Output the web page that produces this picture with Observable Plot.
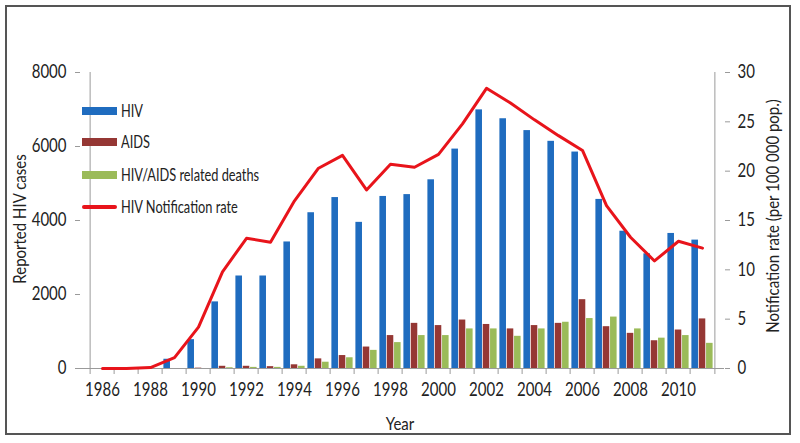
<!DOCTYPE html>
<html>
<head>
<meta charset="utf-8">
<script src="https://cdn.jsdelivr.net/npm/d3@7"></script>
<script src="https://cdn.jsdelivr.net/npm/@observablehq/plot@0.6"></script>
<style>
  html, body { margin: 0; padding: 0; background: #fff; }
  #wrap { position: relative; width: 800px; height: 443px; overflow: hidden; font-family: Lato, "Open Sans", sans-serif; color: #222; }
  #frame { position: absolute; left: 5px; top: 5px; width: 786px; height: 430px; border: 2px solid #555; box-sizing: border-box; pointer-events: none; }
  .lbl { position: absolute; white-space: nowrap; font-size: 15px; color: #222; }
  .rot { transform: translate(-50%, -50%) rotate(-90deg) scaleY(1.2); }
  .ctr { transform: translate(-50%, -50%) scaleY(1.2); }
  .leg { position: absolute; left: 82px; font-size: 12.8px; color: #222; display: flex; align-items: center; white-space: nowrap; }
  .leg span { display: inline-block; transform: scaleY(1.28); }
  .sw { width: 35px; height: 8px; margin-right: 4px; }
  .ln { width: 35px; height: 4px; margin-right: 4px; border-radius: 2px; }
  svg { position: absolute; left: 0; top: 0; }
</style>
</head>
<body>
<div id="wrap"></div>
<script>
const years = [1986, 1987, 1988, 1989, 1990, 1991, 1992, 1993, 1994, 1995, 1996, 1997, 1998,
               1999, 2000, 2001, 2002, 2003, 2004, 2005, 2006, 2007, 2008, 2009, 2010, 2011];
const hivCases = [0, 0, 0, 250, 780, 1800, 2500, 2500, 3420, 4210, 4620, 3950, 4650,
                  4700, 5100, 5930, 6990, 6750, 6430, 6140, 5850, 4570, 3710, 3100, 3650, 3470];
const aidsCases = [0, 0, 0, 0, 10, 60, 60, 50, 100, 260, 350, 580, 890,
                   1220, 1160, 1310, 1190, 1070, 1160, 1220, 1860, 1130, 950, 750, 1040, 1340];
const deaths = [0, 0, 0, 0, 0, 20, 30, 30, 60, 170, 290, 490, 700,
                890, 890, 1070, 1070, 870, 1070, 1250, 1350, 1390, 1070, 820, 890, 680];
const notificationRate = [0, 0, 0.1, 1.1, 4.2, 9.8, 13.2, 12.8, 17.0, 20.3, 21.6, 18.1, 20.7,
                          20.4, 21.7, 24.8, 28.4, 26.9, 25.2, 23.6, 22.1, 16.5, 13.3, 10.9, 12.9, 12.2];
const leftTicks = [0, 2000, 4000, 6000, 8000];
const rightTicks = [0, 5, 10, 15, 20, 25, 30];
const yearLabels = [1986, 1988, 1990, 1992, 1994, 1996, 1998, 2000, 2002, 2004, 2006, 2008, 2010];
const seriesNames = ["HIV", "AIDS", "HIV/AIDS related deaths", "HIV Notification rate"];
const colors = {hiv: "#1f6cbf", aids: "#953734", deaths: "#9bbb59", rate: "#e8141b"};

const data = years.map((year, i) => ({
  year, hiv: hivCases[i], aids: aidsCases[i], deaths: deaths[i], rate: notificationRate[i]
}));

const W = 800, H = 443, ML = 80, MR = 76, MT = 72, MB = 75;
const bw = (W - ML - MR) / years.length;
const S = 8000 / 30; // right axis -> left axis units
const axisColor = "#9a9a9a";

const chart = Plot.plot({
  width: W, height: H,
  marginLeft: ML, marginRight: MR, marginTop: MT, marginBottom: MB,
  style: {fontFamily: "Lato, 'Open Sans', sans-serif", fontSize: "15px", color: "#222", background: "transparent"},
  x: {type: "band", domain: years, padding: 0, label: null},
  y: {domain: [0, 8000], label: null},
  marks: [
    Plot.barY(data, {x: "year", y: "hiv", fill: colors.hiv, insetLeft: 1.4, insetRight: bw - 8.75}),
    Plot.barY(data, {x: "year", y: "aids", fill: colors.aids, insetLeft: 8.75, insetRight: bw - 16.05}),
    Plot.barY(data, {x: "year", y: "deaths", fill: colors.deaths, insetLeft: 16.05, insetRight: 1.4}),
    // axis lines
    Plot.ruleY([0], {stroke: axisColor}),
    Plot.ruleX([years[0]], {stroke: axisColor, dx: -bw / 2}),
    Plot.ruleX([years[years.length - 1]], {stroke: axisColor, dx: bw / 2}),
    // x tick marks at category boundaries
    Plot.axisX({ticks: years, tickFormat: () => "", tickSize: 6, dx: -bw / 2, stroke: axisColor}),
    Plot.axisX({ticks: [years[years.length - 1]], tickFormat: () => "", tickSize: 6, dx: bw / 2, stroke: axisColor}),
    Plot.axisX({ticks: yearLabels, tickSize: 0, tickPadding: 14, tickFormat: d => String(d), fill: "#222", fontSize: 15}),
    // left axis
    Plot.axisY({ticks: leftTicks, tickSize: 5, tickPadding: 9, tickFormat: d => String(d), stroke: axisColor, fill: "#222", fontSize: 15}),
    // right axis (notification rate)
    Plot.axisY(rightTicks.map(v => v * S), {anchor: "right", tickSize: 5, tickPadding: 8, tickFormat: d => String(Math.round(d / S)), stroke: axisColor, fill: "#222", fontSize: 15}),
    // notification rate line
    Plot.line(data, {x: "year", y: d => d.rate * S, stroke: colors.rate, strokeWidth: 3, strokeLinejoin: "round"})
  ]
});

// stretch tick labels vertically (the reference text is tall and narrow)
d3.select(chart).selectAll("text").each(function() {
  const t = this.getAttribute("transform");
  if (t && t.includes("translate")) this.setAttribute("transform", t + " scale(1,1.22)");
});

const wrap = document.getElementById("wrap");
wrap.appendChild(chart);

function addLabel(text, x, y, cls) {
  const d = document.createElement("div");
  d.className = "lbl " + cls;
  d.style.left = x + "px";
  d.style.top = y + "px";
  d.textContent = text;
  wrap.appendChild(d);
}
addLabel("Reported HIV cases", 19, 219, "rot");
addLabel("Notification rate (per 100 000 pop.)", 772, 216, "rot");
addLabel("Year", 400, 423, "ctr");

const legendY = [111, 142, 175, 207];
const legendColors = [colors.hiv, colors.aids, colors.deaths, colors.rate];
seriesNames.forEach((name, i) => {
  const row = document.createElement("div");
  row.className = "leg";
  row.style.top = (legendY[i] - 9) + "px";
  row.style.height = "18px";
  const sw = document.createElement("div");
  sw.className = i === 3 ? "ln" : "sw";
  sw.style.background = legendColors[i];
  const t = document.createElement("span");
  t.textContent = name;
  row.appendChild(sw);
  row.appendChild(t);
  wrap.appendChild(row);
});

const frame = document.createElement("div");
frame.id = "frame";
wrap.appendChild(frame);
</script>
</body>
</html>
